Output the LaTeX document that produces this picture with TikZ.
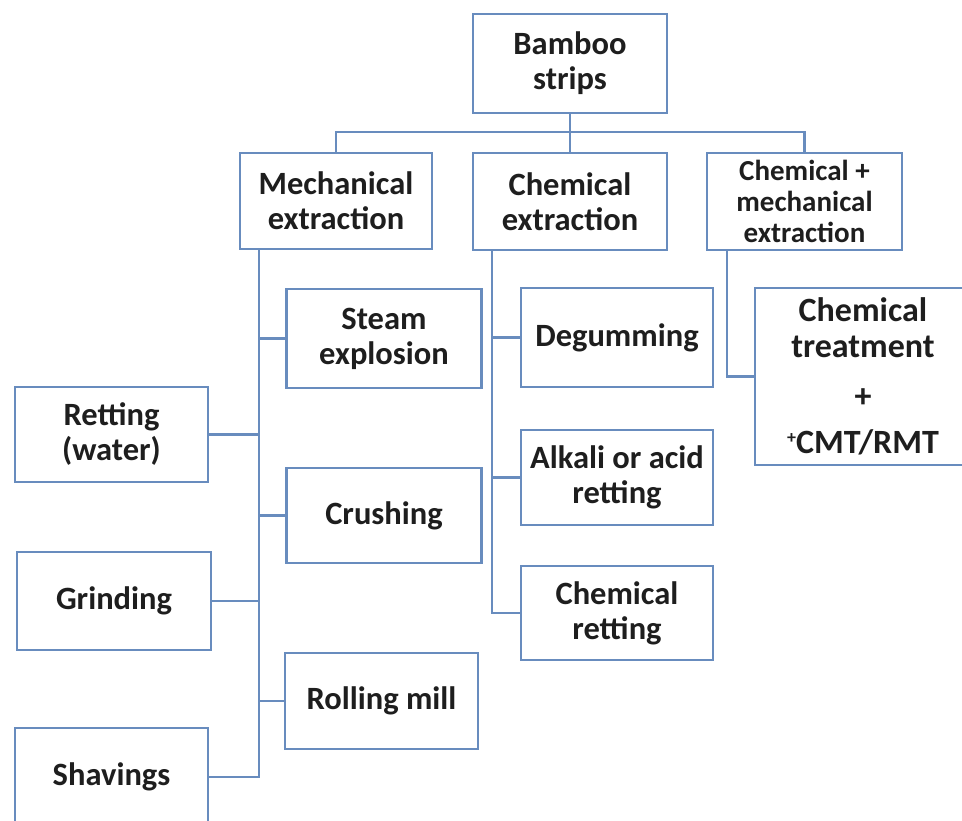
\documentclass[tikz,border=0pt]{standalone}
\usepackage{fontspec}
\setmainfont{Carlito}
\definecolor{bordc}{RGB}{104,140,190}
\definecolor{linec}{RGB}{104,140,190}
\definecolor{txtc}{RGB}{30,30,30}
\begin{document}
\begin{tikzpicture}[x=1pt,y=-1pt,
  box/.style={draw=bordc, line width=2.4pt, fill=white, align=center, inner sep=0pt,
    text=txtc, font=\fontsize{32.5}{35}\selectfont\bfseries},
  conn/.style={draw=linec, line width=2.4pt}]
\useasboundingbox (0,0) rectangle (962,821);
% top
\node[box, minimum width=194pt, minimum height=99pt] (bamboo) at (570,63.5) {Bamboo\\strips};
\node[box, minimum width=192pt, minimum height=96pt] (mech) at (336,201) {Mechanical\\extraction};
\node[box, minimum width=194pt, minimum height=97pt] (chem) at (570,201.5) {Chemical\\extraction};
\node[box, minimum width=195pt, minimum height=97pt, font=\fontsize{29}{31}\selectfont\bfseries] (cm) at (804.5,201.5) {Chemical +\\mechanical\\extraction};
% mechanical branch
\node[box, minimum width=195pt, minimum height=99pt] (steam) at (384,338.5) {Steam\\explosion};
\node[box, minimum width=193pt, minimum height=95pt] (retting) at (111.5,434.5) {Retting\\(water)};
\node[box, minimum width=195pt, minimum height=95pt] (crushing) at (384,515.5) {Crushing};
\node[box, minimum width=194pt, minimum height=98pt] (grinding) at (114,601) {Grinding};
\node[box, minimum width=193pt, minimum height=96pt] (rolling) at (381.5,701) {Rolling mill};
\node[box, minimum width=193pt, minimum height=98pt] (shavings) at (111.5,777) {Shavings};
% chemical branch
\node[box, minimum width=192pt, minimum height=99pt] (degum) at (617,337.5) {Degumming};
\node[box, minimum width=192pt, minimum height=95pt] (alkali) at (617,477.5) {Alkali or acid\\retting};
\node[box, minimum width=192pt, minimum height=94pt] (chemret) at (617,613) {Chemical\\retting};
% combined branch
\node[box, minimum width=216pt, minimum height=177pt, font=\fontsize{34}{36}\selectfont\bfseries] (treat) at (863,376.5)
  {Chemical\\treatment\\[14pt]+\\[10pt]\raisebox{0.3em}{\fontsize{18}{18}\selectfont+}CMT/RMT};
% connectors
\coordinate (bus) at (570,132);
\draw[conn] (bamboo.south) -- (chem.north);
\draw[conn] (mech.north) |- (bus) -| (cm.north);
\coordinate (mt) at ([xshift=20pt]mech.south west);
\draw[conn] (mt) |- (shavings.east);
\draw[conn] (steam.west) -- (steam.west -| mt);
\draw[conn] (retting.east) -- (retting.east -| mt);
\draw[conn] (crushing.west) -- (crushing.west -| mt);
\draw[conn] (grinding.east) -- (grinding.east -| mt);
\draw[conn] (rolling.west) -- (rolling.west -| mt);
\coordinate (ct) at ([xshift=20pt]chem.south west);
\draw[conn] (ct) |- (chemret.west);
\draw[conn] (degum.west) -- (degum.west -| ct);
\draw[conn] (alkali.west) -- (alkali.west -| ct);
\coordinate (cmt) at ([xshift=21pt]cm.south west);
\draw[conn] (cmt) |- (treat.west);
\end{tikzpicture}
\end{document}
